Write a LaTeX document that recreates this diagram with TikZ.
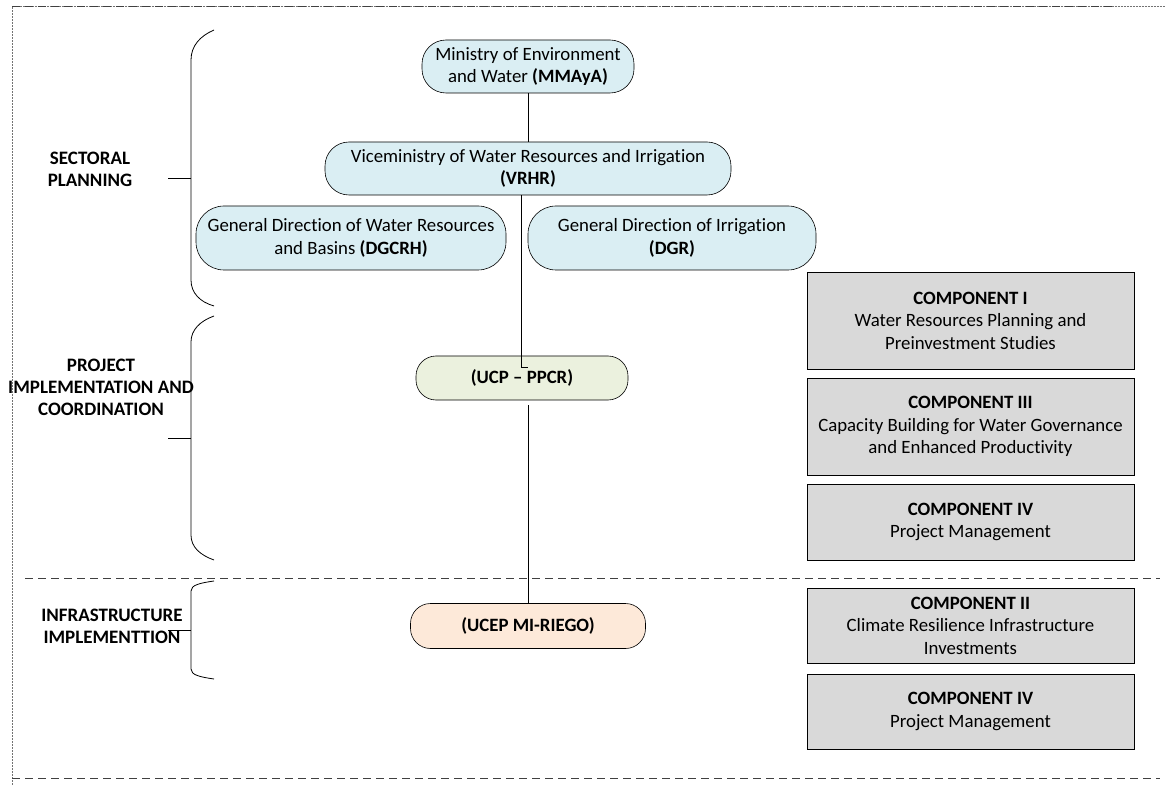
\documentclass[tikz,border=0pt]{standalone}
\usepackage{fontspec}
\setmainfont{Carlito}[Ligatures=NoCommon]
\usepackage{tikz}
\usetikzlibrary{calc}
\definecolor{skyfill}{RGB}{218,238,243}
\definecolor{sagefill}{RGB}{235,241,222}
\definecolor{peachfill}{RGB}{253,233,217}
\definecolor{compfill}{RGB}{217,217,217}
\tikzset{
  org/.style = {align=center, inner sep=0pt, text centered, draw=black,
    font=\fontsize{18.8}{22.5}\selectfont},
  org_b/.style = {org, fill=skyfill, rounded corners=24pt},% blue pill
  org_g/.style = {org, fill=sagefill, rounded corners=20pt, font=\fontsize{18.8}{22.5}\selectfont\bfseries},% green pill
  org_p/.style = {org, fill=peachfill, rounded corners=20pt, font=\fontsize{18.8}{22.5}\selectfont\bfseries},% peach pill
  comp/.style = {org, fill=compfill, minimum width=327pt},% component box
  lvl/.style = {align=center, font=\fontsize{19}{22}\selectfont\bfseries},% level label
  sep/.style = {dash pattern=on 8pt off 5pt, black!75, line width=0.8pt},
  brace/.style = {black, line width=0.8pt},
}
\begin{document}
\begin{tikzpicture}[x=1pt,y=-1pt,line width=0.6pt]
  \useasboundingbox (0,0) rectangle (1165,786);
  % page frame and separators
  \draw[black!55, densely dotted, line width=0.5pt] (12,786) -- (12,6) -- (1165,6);
  \draw[sep] (12,6) -- (1113,6);
  \draw[sep] (25,578) -- (1160,578);
  \draw[sep] (12,778) -- (1160,778);

  % levels
  \node[lvl] (l1) at (90,169) {SECTORAL\\PLANNING};
  \node[lvl] (l2) at (101,387) {PROJECT\\IMPLEMENTATION AND\\COORDINATION};
  \node[lvl] (l3) at (112,626) {INFRASTRUCTURE\\IMPLEMENTTION};

  \draw[brace] (214,30) .. controls (200,36) and (191,46) .. (191,60) -- (191,280)
    .. controls (191,293) and (200,302) .. (214,306);
  \draw[brace] (168,178) -- (191,178);
  \draw[brace] (214,316) .. controls (200,321) and (191,330) .. (191,342) -- (191,535)
    .. controls (191,547) and (200,555) .. (214,560);
  \draw[brace] (168,438) -- (191,438);
  \draw[brace] (214,581) .. controls (200,583) and (191,585) .. (191,591) -- (191,669)
    .. controls (191,675) and (200,677) .. (214,679);
  \draw[brace] (168,630) -- (191,630);

  % organisation
  \node[org_b, minimum width=212pt, minimum height=53pt] (mmaya) at (528,66.5)
    {Ministry of Environment\\and Water \textbf{(MMAyA)}};
  \node[org_b, minimum width=406pt, minimum height=53pt] (vrhr) at (528,168.5)
    {Viceministry of Water Resources and Irrigation\\\textbf{(VRHR)}};
  \node[org_b, minimum width=310pt, minimum height=64pt, rounded corners=28pt] (dgcrh) at (351,238)
    {General Direction of Water Resources\\and Basins \textbf{(DGCRH)}};
  \node[org_b, minimum width=288pt, minimum height=64pt, rounded corners=28pt] (dgr) at (672,238)
    {General Direction of Irrigation\\\textbf{(DGR)}};
  \node[org_g, minimum width=212pt, minimum height=44pt] (ucp) at (522,378) {(UCP -- PPCR)};
  \node[org_p, minimum width=235pt, minimum height=45pt] (ucep) at (528,626) {(UCEP MI-RIEGO)};

  % components
  \node[comp, minimum height=97pt] (c1) at (970.5,320.5)
    {\textbf{COMPONENT I}\\Water Resources Planning and\\Preinvestment Studies};
  \node[comp, minimum height=97pt] (c3) at (970.5,426.5)
    {\textbf{COMPONENT III}\\Capacity Building for Water Governance\\and Enhanced Productivity};
  \node[comp, minimum height=76pt] (c4) at (970.5,522)
    {\textbf{COMPONENT IV}\\Project Management};
  \node[comp, minimum height=75pt] (c2) at (970.5,625.5)
    {\textbf{COMPONENT II}\\Climate Resilience Infrastructure\\Investments};
  \node[comp, minimum height=75pt] (c4b) at (970.5,711.5)
    {\textbf{COMPONENT IV}\\Project Management};

  % links
  \coordinate (jog) at ($(ucp.center)+(6,-11)$);
  \draw (mmaya.south) -- (mmaya.south |- vrhr.north);
  \draw ([xshift=-7pt]vrhr.south) |- (jog);
  \draw ($(ucp.south -| ucep.north)+(0,5)$) -- (ucep.north);
\end{tikzpicture}
\end{document}
